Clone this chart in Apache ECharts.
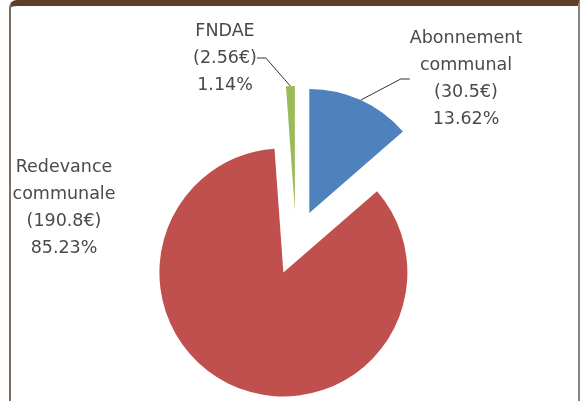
<!DOCTYPE html>
<html>
<head>
<meta charset="utf-8">
<script src="https://cdn.jsdelivr.net/npm/echarts@6/dist/echarts.min.js"></script>
<style>
  html, body { margin: 0; padding: 0; background: #fff; }
  #frame {
    position: absolute; left: 9px; top: 0; width: 571px; height: 401px;
    box-sizing: border-box;
    border-left: 2px solid #7d6e60; border-right: 2px solid #8c837b;
    border-top: 6px solid #5e3f27; border-top-left-radius: 8px;
  }
  #chart { position: absolute; left: 0; top: 0; width: 581px; height: 401px; }
</style>
</head>
<body>
<div id="frame"></div>
<div id="chart"></div>
<script>
// slices, clockwise from 12 o'clock
const names = ['Abonnement\ncommunal', 'Redevance\ncommunale', 'FNDAE']
const amounts = [30.5, 190.8, 2.56]
const percents = ['13.62', '85.23', '1.14']
const colors = ['#4f81bd', '#c0504d', '#9bbb59']

// layout: pie centre, radius, explosion per slice, label block centres
const pieCenter = [296, 242]
const pieRadius = 124
const explode = [32, 33, 32]
const labelPos = [[466, 79], [64, 208], [225, 58]]
const showLine = [true, false, true]

const chart = echarts.init(document.getElementById('chart'))

// one series per slice so each can be pulled out along its own mid angle
const total = amounts.reduce((a, b) => a + b, 0)
let acc = 0
const series = names.map((name, i) => {
  const mid = (acc + amounts[i] / 2) / total * 2 * Math.PI
  acc += amounts[i]
  const cx = pieCenter[0] + explode[i] * Math.sin(mid)
  const cy = pieCenter[1] - explode[i] * Math.cos(mid)
  return {
    type: 'pie',
    center: [cx, cy],
    radius: pieRadius,
    startAngle: 90,
    clockwise: true,
    avoidLabelOverlap: false,
    silent: true,
    emphasis: { disabled: true },
    label: {
      color: '#4a4a4a',
      fontFamily: 'DejaVu Sans',
      fontSize: 17.5,
      lineHeight: 27,
      align: 'center',
      formatter: (p) => `${p.name}\n(${amounts[p.dataIndex]}€)\n${percents[p.dataIndex]}%`,
    },
    labelLine: { length2: 9, lineStyle: { color: '#333', width: 1 } },
    labelLayout: { x: labelPos[i][0], y: labelPos[i][1], align: 'center', verticalAlign: 'middle' },
    data: names.map((n, j) => ({
      name: n,
      value: amounts[j],
      itemStyle: { color: j === i ? colors[j] : 'rgba(0,0,0,0)' },
      label: { show: j === i },
      labelLine: { show: j === i && showLine[i] },
    })),
  }
})

chart.setOption({ animation: false, series })
</script>
</body>
</html>
